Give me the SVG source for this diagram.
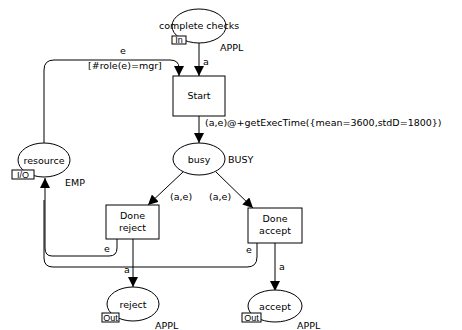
<svg xmlns="http://www.w3.org/2000/svg" width="462" height="330" viewBox="0 0 462 330">
<style>
.pl{fill:#fff;stroke:#000;stroke-width:1}
.tr{fill:#fff;stroke:#000;stroke-width:1}
.t{font-family:"DejaVu Sans",Verdana,sans-serif;font-size:9.5px;fill:#000}
.c{text-anchor:middle}
.tag{fill:#fff;stroke:#000;stroke-width:1}
.tt{font-family:"Liberation Sans",Arial,sans-serif;font-size:9px;fill:#000;text-anchor:middle}
.arc{fill:none;stroke:#000;stroke-width:1}
</style>
<defs>
<marker id="ah" viewBox="0 0 10 10" refX="10" refY="5" markerWidth="10" markerHeight="10" markerUnits="userSpaceOnUse" orient="auto">
<path d="M0,0 L10,5 L0,10 Z" fill="#000"/>
</marker>
</defs>
<rect width="462" height="330" fill="#fff"/>
<g id="connectors">
<path class="arc" d="M199,43 V76" marker-end="url(#ah)"/>
<text class="t" x="203" y="65">a</text>
<path class="arc" d="M44,143 V70 Q44,60 54,60 H170 Q179,60 179,68 V76" marker-end="url(#ah)"/>
<text class="t" x="120" y="54">e</text>
<text class="t" x="88" y="69">[#role(e)=mgr]</text>
<path class="arc" d="M199,116 V143" marker-end="url(#ah)"/>
<text class="t" x="205" y="126">(a,e)@+getExecTime({mean=3600,stdD=1800})</text>
<path class="arc" d="M183,172 L148,205" marker-end="url(#ah)"/>
<text class="t" x="170" y="200">(a,e)</text>
<path class="arc" d="M216,172 L253,208" marker-end="url(#ah)"/>
<text class="t" x="209" y="200">(a,e)</text>
<path class="arc" d="M133,239 V287" marker-end="url(#ah)"/>
<text class="t" x="124" y="273">a</text>
<path class="arc" d="M275,243 V291" marker-end="url(#ah)"/>
<text class="t" x="279" y="270">a</text>
<path class="arc" d="M117,239 V248 Q117,256 109,256 H52 Q45,256 45,248 V178" marker-end="url(#ah)"/>
<text class="t" x="104" y="252">e</text>
<path class="arc" d="M257,243 V257 Q257,267 247,267 H53 Q44,267 44,258 V200"/>
<text class="t" x="246" y="253">e</text>
</g>
<g id="complete_checks">
<ellipse class="pl" cx="199" cy="26" rx="27" ry="17"/>
<text class="t c" x="199" y="29">complete checks</text>
<rect class="tag" x="172" y="36" width="14" height="8"/>
<text class="tt" x="179" y="43">In</text>
<text class="t" x="220" y="51">APPL</text>
</g>
<g id="Start">
<rect class="tr" x="173" y="76" width="52" height="40"/>
<text class="t c" x="199" y="99">Start</text>
</g>
<g id="resource">
<ellipse class="pl" cx="44" cy="160" rx="26" ry="17"/>
<text class="t c" x="44" y="164">resource</text>
<rect class="tag" x="12" y="170" width="22" height="9"/>
<text class="tt" x="23" y="178">I/O</text>
<text class="t" x="65" y="186">EMP</text>
</g>
<g id="busy">
<ellipse class="pl" cx="199" cy="159" rx="26" ry="16"/>
<text class="t c" x="199" y="163">busy</text>
<text class="t" x="228" y="163">BUSY</text>
</g>
<g id="Done_reject">
<rect class="tr" x="106" y="205" width="53" height="34"/>
<text class="t c" x="132.5" y="219">Done</text>
<text class="t c" x="132.5" y="231">reject</text>
</g>
<g id="Done_accept">
<rect class="tr" x="248" y="208" width="54" height="35"/>
<text class="t c" x="275" y="222">Done</text>
<text class="t c" x="275" y="234">accept</text>
</g>
<g id="reject">
<ellipse class="pl" cx="133" cy="304" rx="26" ry="17"/>
<text class="t c" x="133" y="308">reject</text>
<rect class="tag" x="102" y="313" width="17" height="9"/>
<text class="tt" x="110.5" y="321">Out</text>
<text class="t" x="155" y="329">APPL</text>
</g>
<g id="accept">
<ellipse class="pl" cx="275" cy="306" rx="27" ry="16"/>
<text class="t c" x="275" y="310">accept</text>
<rect class="tag" x="242" y="313" width="19" height="9"/>
<text class="tt" x="251.5" y="321">Out</text>
<text class="t" x="297" y="329">APPL</text>
</g>
</svg>
